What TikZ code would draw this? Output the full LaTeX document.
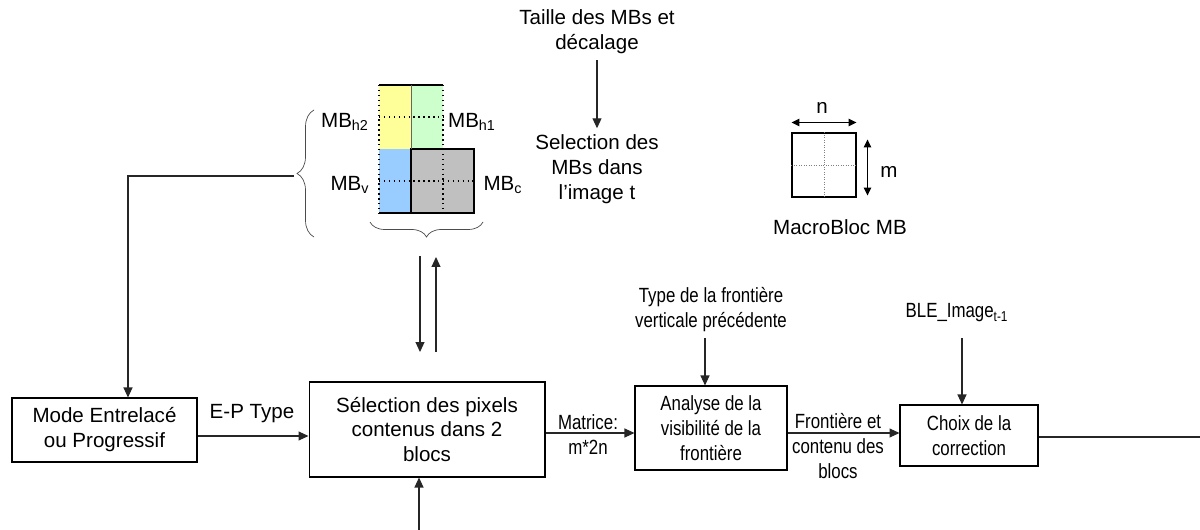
\documentclass[tikz,border=0pt]{standalone}
\usepackage{fontspec}
\setmainfont{Liberation Sans}
\newfontfamily\narrowfont[FakeStretch=0.82]{Liberation Sans}
\usetikzlibrary{
    arrows.meta,
    decorations.pathreplacing
}
\definecolor{mbyellow}{HTML}{FFFF99}
\definecolor{mbgreen}{HTML}{CCFFCC}
\definecolor{mbblue}{HTML}{99CCFF}
\definecolor{mbgray}{HTML}{C0C0C0}

\begin{document}
\begin{tikzpicture}[x=0.02cm, y=-0.02cm,
    txt/.style={align=center, font=\fontsize{11.7pt}{14.2pt}\selectfont},
    ntxt/.style={align=center, font=\narrowfont\fontsize{11.7pt}{14.2pt}\selectfont},
    box/.style={draw, line width=0.6pt, inner sep=1pt},
    arr/.style={line width=0.6pt, draw=black!85, -{Triangle[length=0.2cm, width=0.18cm]}},
    dim/.style={line width=0.6pt, {Triangle[length=0.16cm, width=0.15cm]}-{Triangle[length=0.16cm, width=0.15cm]}},
    brc/.style={decorate, decoration={brace, amplitude=#1}, line width=0.4pt, draw=black!70}
]

% Frame
\useasboundingbox (0,0) rectangle (1200,530);

% Macroblocks
\fill[mbyellow] (379,85) rectangle (411,149);
\fill[mbgreen] (411,85) rectangle (443,149);
\fill[mbblue] (379,149) rectangle (411,213);
\fill[mbgray] (411,149) rectangle (474,213);
\draw[line width=0.8pt] (411,149) rectangle (474,213);
\draw[line width=0.8pt] (379,85) -- (443,85);
\draw[line width=0.8pt] (379,213) -- (411,213);
\draw[line width=0.4pt, black!60] (411,85) -- (411,149);
\draw[dotted, line width=0.8pt] (379,85) -- (379,213);
\draw[dotted, line width=0.8pt] (443,85) -- (443,213);
\draw[dotted, line width=0.8pt] (379,117) -- (443,117);
\draw[dotted, line width=0.8pt] (379,181) -- (474,181);
\node[txt] (mbh2) at (345,122) {MB\textsubscript{h2}};
\node[txt] (mbh1) at (472,122) {MB\textsubscript{h1}};
\node[txt] (mbv) at (350,185) {MB\textsubscript{v}};
\node[txt] (mbc) at (503,185) {MB\textsubscript{c}};

% Braces
\draw[brc=0.34cm] (314,237) -- (314,110);
\draw[brc=0.3cm] (483,222) -- (370,222);

% Top inputs
\node[txt] (taille) at (597,32) {Taille des MBs et\\décalage};
\node[txt] (selmb) at (597,169) {Selection des\\MBs dans\\l’image t};
\draw[arr] (taille) -- (selmb);

% MacroBloc
\node[draw, line width=0.6pt, minimum size=1.28cm, inner sep=0pt] (mb) at (824,165) {};
\draw[densely dotted, black!50] (mb.north) -- (mb.south);
\draw[densely dotted, black!50] (mb.west) -- (mb.east);
\draw[dim] ([yshift=0.2cm]mb.north west) -- ([yshift=0.2cm]mb.north east);
\draw[dim] ([xshift=0.22cm, yshift=-0.14cm]mb.north east) -- ([xshift=0.22cm, yshift=0.04cm]mb.south east);
\node[txt] (nlab) at (822,108) {n};
\node[txt] (mlab) at (889,172) {m};
\node[txt] (mbname) at (840,227) {MacroBloc MB};

% Boxes
\node[box, txt, minimum width=3.7cm, minimum height=1.28cm] (mode) at (104.5,430) {Mode Entrelacé\\ou Progressif};
\node[box, txt, minimum width=4.72cm, minimum height=1.9cm] (selpix) at (427,429.5) {Sélection des pixels\\contenus dans 2\\blocs};
\node[box, ntxt, minimum width=3.04cm, minimum height=1.68cm] (analyse) at (711,428) {Analyse de la\\visibilité de la\\frontière};
\node[box, ntxt, minimum width=2.76cm, minimum height=1.22cm] (choix) at (969,435.5) {Choix de la\\correction};

% Side inputs
\node[ntxt] (typefr) at (711,310) {Type de la frontière\\verticale précédente};
\node[ntxt] (ble) at (957,313) {BLE\_Image\textsubscript{t-1}};

% Labels on arrows
\node[txt] (eptype) at (252,414) {E-P Type};
\node[ntxt] (matrice) at (588,435) {Matrice:\\m*2n};
\node[ntxt] (fronti) at (838,446) {Frontière et\\contenu des\\blocs};

% Rows and free ends
\coordinate (eprow) at (0,436);
\coordinate (mainrow) at (0,433);
\coordinate (out) at (1200,437);
\coordinate (bracetip) at (294,176);
\coordinate (modein) at (128,0);
\coordinate (dnstart) at (420,256);
\coordinate (dnend) at (420,352);
\coordinate (upstart) at (436,352);
\coordinate (upend) at (436,257);
\coordinate (selin) at (419,530);
\coordinate (typein) at (705,0);
\coordinate (blein) at (962,0);

% Connectors
\draw[arr] (bracetip) -| (modein |- mode.north);
\draw[arr] (mode.east |- eprow) -- (selpix.west |- eprow);
\draw[arr] (selpix.east |- mainrow) -- (analyse.west |- mainrow);
\draw[arr] (analyse.east |- mainrow) -- (choix.west |- mainrow);
\draw[line width=0.6pt, black!85] (choix.east |- out) -- (out);
\draw[arr] (dnstart) -- (dnend);
\draw[arr] (upstart) -- (upend);
\draw[arr] (selin) -- (selin |- selpix.south);
\draw[arr] (typein |- typefr.south) -- (typein |- analyse.north);
\draw[arr, shorten <=0.2cm] (blein |- ble.south) -- (blein |- choix.north);

\end{tikzpicture}
\end{document}
